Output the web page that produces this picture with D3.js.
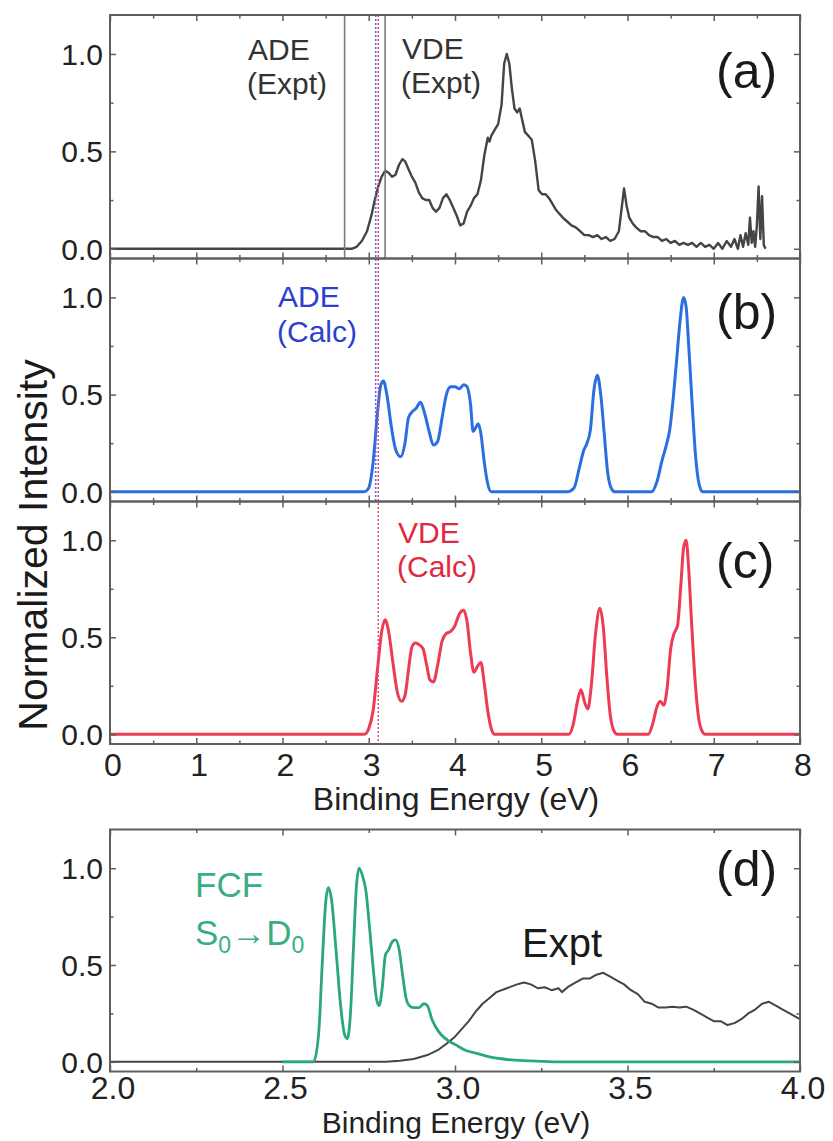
<!DOCTYPE html>
<html>
<head>
<meta charset="utf-8">
<script src="https://cdn.jsdelivr.net/npm/d3@7"></script>
<style>
  body { margin: 0; background: #fff; }
  svg { display: block; }
  text { font-family: "Liberation Sans", Arial, Helvetica, sans-serif; }
</style>
</head>
<body>
<svg id="chart" width="833" height="1141"></svg>
<script>
// ---- Photoelectron spectrum, experiment (panel a) ----
const exptE = [0, 2.80, 2.86, 2.92, 2.98, 3.03, 3.07, 3.11, 3.15, 3.19, 3.23, 3.27, 3.31, 3.35, 3.39, 3.42,
  3.46, 3.50, 3.54, 3.58, 3.62, 3.66, 3.70, 3.74, 3.78, 3.82, 3.86, 3.90, 3.94, 3.98, 4.02, 4.06, 4.10,
  4.14, 4.18, 4.22, 4.26, 4.30, 4.34, 4.38, 4.40, 4.42, 4.46, 4.50, 4.54, 4.57, 4.60, 4.63, 4.66, 4.69, 4.72,
  4.75, 4.78, 4.81, 4.85, 4.89, 4.93, 4.97, 5.01, 5.05, 5.09, 5.13, 5.17, 5.21, 5.25, 5.30, 5.35, 5.40,
  5.45, 5.50, 5.55, 5.60, 5.65, 5.70, 5.75, 5.80, 5.85, 5.90, 5.93, 5.96, 5.99, 6.02, 6.06, 6.10, 6.15,
  6.20, 6.25, 6.30, 6.35, 6.40, 6.45, 6.50, 6.55, 6.60, 6.65, 6.70, 6.75, 6.80, 6.85, 6.90, 6.95, 7.00,
  7.05, 7.10, 7.15, 7.20, 7.24, 7.28, 7.31, 7.34, 7.37, 7.40, 7.42, 7.44, 7.46, 7.48, 7.50, 7.52, 7.54,
  7.56, 7.58, 7.60];
const exptI = [0, 0, 0.01, 0.04, 0.09, 0.17, 0.25, 0.32, 0.37, 0.40, 0.39, 0.37, 0.38, 0.43, 0.46, 0.45,
  0.41, 0.37, 0.34, 0.29, 0.26, 0.25, 0.25, 0.21, 0.19, 0.21, 0.26, 0.28, 0.25, 0.21, 0.17, 0.12, 0.13,
  0.19, 0.22, 0.26, 0.28, 0.35, 0.48, 0.57, 0.55, 0.58, 0.61, 0.64, 0.74, 0.95, 1.00, 0.95, 0.82, 0.72, 0.70,
  0.72, 0.66, 0.60, 0.58, 0.56, 0.45, 0.30, 0.28, 0.28, 0.26, 0.23, 0.20, 0.18, 0.16, 0.14, 0.12, 0.11,
  0.09, 0.07, 0.07, 0.06, 0.07, 0.05, 0.06, 0.04, 0.05, 0.09, 0.20, 0.31, 0.22, 0.16, 0.13, 0.11, 0.09,
  0.09, 0.07, 0.06, 0.06, 0.04, 0.05, 0.03, 0.04, 0.02, 0.03, 0.02, 0.03, 0.01, 0.03, 0.01, 0.02, 0.00,
  0.03, 0.00, 0.04, 0.01, 0.05, 0.00, 0.07, 0.01, 0.08, 0.02, 0.16, 0.03, 0.09, 0.01, 0.12, 0.32, 0.05,
  0.27, 0.02, 0.00];

// ---- Calculated spectrum from adiabatic detachment (panel b) ----
const adeE = [0, 2.95, 3.00, 3.05, 3.10, 3.14, 3.17, 3.21, 3.26, 3.31, 3.37, 3.42, 3.46, 3.50, 3.55, 3.60,
  3.65, 3.70, 3.75, 3.80, 3.85, 3.90, 3.95, 4.00, 4.05, 4.10, 4.14, 4.18, 4.21, 4.24, 4.27, 4.30, 4.34,
  4.38, 4.42, 4.46, 5.30, 5.38, 5.44, 5.49, 5.53, 5.57, 5.61, 5.65, 5.69, 5.73, 5.77, 5.81, 5.85, 6.28,
  6.34, 6.40, 6.45, 6.49, 6.53, 6.57, 6.61, 6.65, 6.68, 6.71, 6.75, 6.79, 6.83, 6.87, 8.0];
const adeI = [0, 0, 0.02, 0.15, 0.40, 0.55, 0.57, 0.50, 0.34, 0.22, 0.18, 0.25, 0.38, 0.41, 0.43, 0.46,
  0.40, 0.31, 0.24, 0.26, 0.38, 0.50, 0.54, 0.54, 0.53, 0.55, 0.54, 0.45, 0.31, 0.33, 0.35, 0.30, 0.15,
  0.04, 0.00, 0, 0, 0.02, 0.12, 0.21, 0.25, 0.32, 0.52, 0.60, 0.50, 0.30, 0.10, 0.02, 0, 0,
  0.05, 0.16, 0.24, 0.32, 0.48, 0.68, 0.88, 1.00, 0.95, 0.75, 0.45, 0.18, 0.04, 0, 0];

// ---- Calculated spectrum from vertical detachment (panel c) ----
const vdeE = [0, 2.95, 3.00, 3.05, 3.10, 3.15, 3.19, 3.23, 3.28, 3.33, 3.38, 3.42, 3.46, 3.50, 3.54, 3.59,
  3.63, 3.67, 3.71, 3.75, 3.80, 3.85, 3.90, 3.95, 4.00, 4.05, 4.10, 4.14, 4.18, 4.22, 4.26, 4.30, 4.34,
  4.38, 4.42, 4.46, 5.32, 5.37, 5.42, 5.46, 5.50, 5.54, 5.58, 5.63, 5.68, 5.72, 5.76, 5.80, 5.84, 5.88,
  6.24, 6.29, 6.34, 6.38, 6.42, 6.46, 6.50, 6.54, 6.58, 6.62, 6.65, 6.68, 6.71, 6.74, 6.78, 6.82, 6.86,
  6.90, 8.0];
const vdeI = [0, 0, 0.03, 0.12, 0.33, 0.53, 0.59, 0.53, 0.37, 0.22, 0.17, 0.20, 0.33, 0.45, 0.47, 0.46,
  0.44, 0.36, 0.28, 0.27, 0.36, 0.48, 0.52, 0.53, 0.56, 0.62, 0.64, 0.58, 0.42, 0.32, 0.35, 0.37, 0.26,
  0.12, 0.03, 0, 0, 0.05, 0.17, 0.23, 0.17, 0.13, 0.25, 0.52, 0.65, 0.55, 0.30, 0.10, 0.02, 0,
  0, 0.05, 0.14, 0.17, 0.15, 0.24, 0.44, 0.52, 0.56, 0.78, 0.96, 1.00, 0.85, 0.60, 0.30, 0.10, 0.02,
  0, 0];

// ---- Franck-Condon factors S0 -> D0 (panel d) ----
const fcfE = [2.50, 2.59, 2.605, 2.615, 2.625, 2.633, 2.642, 2.655, 2.668, 2.680, 2.688, 2.697, 2.706,
  2.714, 2.722, 2.732, 2.742, 2.752, 2.763, 2.772, 2.780, 2.789, 2.798, 2.808, 2.818, 2.828, 2.838,
  2.848, 2.858, 2.868, 2.880, 2.896, 2.910, 2.920, 2.933, 2.944, 2.96, 2.98, 3.00, 3.03, 3.06, 3.10,
  3.15, 3.22, 3.30, 4.00];
const fcfI = [0, 0, 0.15, 0.50, 0.82, 0.90, 0.84, 0.58, 0.30, 0.14, 0.12, 0.25, 0.60, 0.90, 1.00, 0.96,
  0.88, 0.70, 0.48, 0.33, 0.29, 0.38, 0.55, 0.58, 0.62, 0.63, 0.58, 0.45, 0.33, 0.29, 0.28, 0.28, 0.30,
  0.29, 0.22, 0.18, 0.14, 0.11, 0.09, 0.06, 0.045, 0.025, 0.012, 0.005, 0, 0];

// ---- Experimental spectrum near threshold (panel d) ----
const zoomE = [2.0, 2.80, 2.84, 2.88, 2.92, 2.95, 2.98, 3.00, 3.02, 3.04, 3.06, 3.08, 3.10, 3.12, 3.15,
  3.18, 3.20, 3.22, 3.24, 3.26, 3.28, 3.30, 3.31, 3.33, 3.35, 3.37, 3.39, 3.41, 3.43, 3.45, 3.47, 3.49,
  3.51, 3.53, 3.55, 3.57, 3.59, 3.61, 3.63, 3.65, 3.67, 3.69, 3.71, 3.73, 3.75, 3.77, 3.79, 3.81, 3.83,
  3.85, 3.87, 3.89, 3.91, 3.93, 3.95, 3.97, 4.00];
const zoomI = [0, 0, 0.005, 0.015, 0.035, 0.06, 0.10, 0.13, 0.17, 0.21, 0.26, 0.30, 0.33, 0.36, 0.38,
  0.40, 0.41, 0.40, 0.38, 0.385, 0.37, 0.38, 0.36, 0.39, 0.41, 0.43, 0.43, 0.45, 0.46, 0.44, 0.42, 0.40,
  0.37, 0.35, 0.31, 0.30, 0.28, 0.28, 0.285, 0.28, 0.285, 0.27, 0.25, 0.23, 0.21, 0.21, 0.19, 0.20, 0.22,
  0.25, 0.27, 0.30, 0.31, 0.29, 0.27, 0.25, 0.22];

// ---- Detachment energy markers (eV) ----
const adeExpt = 2.72, vdeExpt = 3.19;
const adeCalc = 3.08, vdeCalc = 3.11;

// ---- Tick values and labels ----
const yMajor = [0, 0.5, 1.0];
const yMinor = [0.25, 0.75];
const yTickLabels = ["0.0", "0.5", "1.0"];
const xMajorWide = [0, 1, 2, 3, 4, 5, 6, 7, 8];
const xMinorWide = [0.5, 1.5, 2.5, 3.5, 4.5, 5.5, 6.5, 7.5];
const xMajorZoom = [2.0, 2.5, 3.0, 3.5, 4.0];
const xMinorZoom = [2.25, 2.75, 3.25, 3.75];
const xTickLabelsZoom = ["2.0", "2.5", "3.0", "3.5", "4.0"];

const svg = d3.select("#chart");
const left = 110, right = 800;
const frameColor = "#5e5e5e";
const colExpt = "#444444", colAde = "#2a6fe0", colVde = "#ec3b52", colFcf = "#2aa877";
const zip = (xs, ys) => xs.map((v, i) => [v, ys[i]]);

const xWide = d3.scaleLinear().domain([0, 8]).range([left, right]);
const xZoom = d3.scaleLinear().domain([2, 4]).range([left, right]);

function makeY(top, h) {
  return d3.scaleLinear().domain([-0.05, 1.2]).range([top + h, top]);
}

const panels = [
  { id: "a", top: 15, h: 243.5, x: xWide },
  { id: "b", top: 258.5, h: 243, x: xWide },
  { id: "c", top: 501.5, h: 242.5, x: xWide },
  { id: "d", top: 829.5, h: 242, x: xZoom }
];
panels.forEach(p => { p.y = makeY(p.top, p.h); });

function drawTicks(p, xMaj, xMin) {
  const g = svg.append("g");
  const bottom = p.top + p.h;
  const sets = [
    [d3.axisBottom(p.x).tickValues(xMaj).tickSize(-6), `translate(0,${bottom})`],
    [d3.axisBottom(p.x).tickValues(xMin).tickSize(-3.5), `translate(0,${bottom})`],
    [d3.axisTop(p.x).tickValues(xMaj).tickSize(-6), `translate(0,${p.top})`],
    [d3.axisTop(p.x).tickValues(xMin).tickSize(-3.5), `translate(0,${p.top})`],
    [d3.axisLeft(p.y).tickValues(yMajor).tickSize(-6), `translate(${left},0)`],
    [d3.axisLeft(p.y).tickValues(yMinor).tickSize(-3.5), `translate(${left},0)`],
    [d3.axisRight(p.y).tickValues(yMajor).tickSize(-6), `translate(${right},0)`],
    [d3.axisRight(p.y).tickValues(yMinor).tickSize(-3.5), `translate(${right},0)`]
  ];
  sets.forEach(([ax, tr]) => {
    const a = g.append("g").attr("transform", tr).call(ax.tickFormat(""));
    a.select(".domain").remove();
    a.selectAll("line").attr("stroke", frameColor).attr("stroke-width", 1.5);
  });
  // y tick labels
  g.selectAll(null).data(yMajor).join("text")
    .attr("x", left - 7).attr("y", d => p.y(d)).attr("dy", "0.36em")
    .attr("text-anchor", "end").attr("font-size", 30).attr("fill", "#222")
    .text((d, i) => yTickLabels[i]);
}

function drawFrame(p) {
  svg.append("rect").attr("x", left).attr("y", p.top)
    .attr("width", right - left).attr("height", p.h)
    .attr("fill", "none").attr("stroke", frameColor).attr("stroke-width", 2);
}

function drawLine(p, pts, color, width, curve) {
  const line = d3.line().x(d => p.x(d[0])).y(d => p.y(d[1])).curve(curve);
  svg.append("path").datum(pts).attr("d", line)
    .attr("fill", "none").attr("stroke", color).attr("stroke-width", width)
    .attr("stroke-linejoin", "round");
}

const [pa, pb, pc, pd] = panels;

// ---- curves ----
drawLine(pa, zip(exptE, exptI), colExpt, 2.4, d3.curveLinear);
drawLine(pb, zip(adeE, adeI), colAde, 3, d3.curveMonotoneX);
drawLine(pc, zip(vdeE, vdeI), colVde, 3, d3.curveMonotoneX);
drawLine(pd, zip(zoomE, zoomI), colExpt, 2, d3.curveLinear);
drawLine(pd, zip(fcfE, fcfI), colFcf, 2.8, d3.curveMonotoneX);

// ---- vertical markers ----
function vline(xv, y1, y2, color, width, dash) {
  const l = svg.append("line").attr("x1", xWide(xv)).attr("x2", xWide(xv))
    .attr("y1", y1).attr("y2", y2).attr("stroke", color).attr("stroke-width", width);
  if (dash) l.attr("stroke-dasharray", dash);
}
vline(adeExpt, pa.top, pa.top + pa.h, "#7a7a7a", 1.6);
vline(vdeExpt, pa.top, pa.top + pa.h, "#7a7a7a", 1.6);
vline(vdeCalc, pa.top, pc.top + pc.h, "#e0507a", 1.5, "2,2");
vline(adeCalc, pa.top, pb.top + pb.h, "#6a5cf0", 1.5, "2,2");

// ---- frames and ticks ----
[pa, pb, pc].forEach(p => { drawFrame(p); drawTicks(p, xMajorWide, xMinorWide); });
drawFrame(pd); drawTicks(pd, xMajorZoom, xMinorZoom);

// x tick labels
svg.append("g").selectAll("text").data(xMajorWide).join("text")
  .attr("x", d => xWide(d) + 3).attr("y", pc.top + pc.h + 32)
  .attr("text-anchor", "middle").attr("font-size", 32).attr("fill", "#222")
  .text(d => d);
svg.append("g").selectAll("text").data(xMajorZoom).join("text")
  .attr("x", d => xZoom(d) + 3).attr("y", pd.top + pd.h + 27.5)
  .attr("text-anchor", "middle").attr("font-size", 32).attr("fill", "#222")
  .text((d, i) => xTickLabelsZoom[i]);

// axis titles
svg.append("text").attr("x", 456).attr("y", 810).attr("text-anchor", "middle")
  .attr("font-size", 32).attr("fill", "#222").text("Binding Energy (eV)");
svg.append("text").attr("x", 456).attr("y", 1133).attr("text-anchor", "middle")
  .attr("font-size", 30).attr("fill", "#222").text("Binding Energy (eV)");
svg.append("text").attr("transform", "translate(47,545) rotate(-90)")
  .attr("text-anchor", "middle").attr("font-size", 41).attr("fill", "#1a1a1a")
  .text("Normalized Intensity");

// ---- annotations ----
function label(x, y, txt, size, color) {
  return svg.append("text").attr("x", x).attr("y", y).attr("font-size", size)
    .attr("fill", color).text(txt);
}
label(248, 60, "ADE", 30, "#333");
label(247, 94, "(Expt)", 30, "#333");
label(402, 59, "VDE", 30, "#333");
label(401, 93, "(Expt)", 30, "#333");
label(278, 307, "ADE", 30, "#2b3fd0");
label(277, 342, "(Calc)", 30, "#2b3fd0");
label(398, 543, "VDE", 30, "#e0283f");
label(397, 577, "(Calc)", 30, "#e0283f");

label(716, 88, "(a)", 50, "#1a1a1a");
label(716, 329, "(b)", 50, "#1a1a1a");
label(716, 578, "(c)", 50, "#1a1a1a");
label(716, 886, "(d)", 50, "#1a1a1a");

label(522, 957, "Expt", 40, "#1a1a1a");
label(195, 897, "FCF", 35, "#3aae82");
const s = label(195, 945, "", 35, "#3aae82");
s.append("tspan").text("S");
s.append("tspan").attr("font-size", 23).attr("dy", 8).text("0");
s.append("tspan").attr("dy", -8).text("\u2192D");
s.append("tspan").attr("font-size", 23).attr("dy", 8).text("0");
</script>
</body>
</html>
